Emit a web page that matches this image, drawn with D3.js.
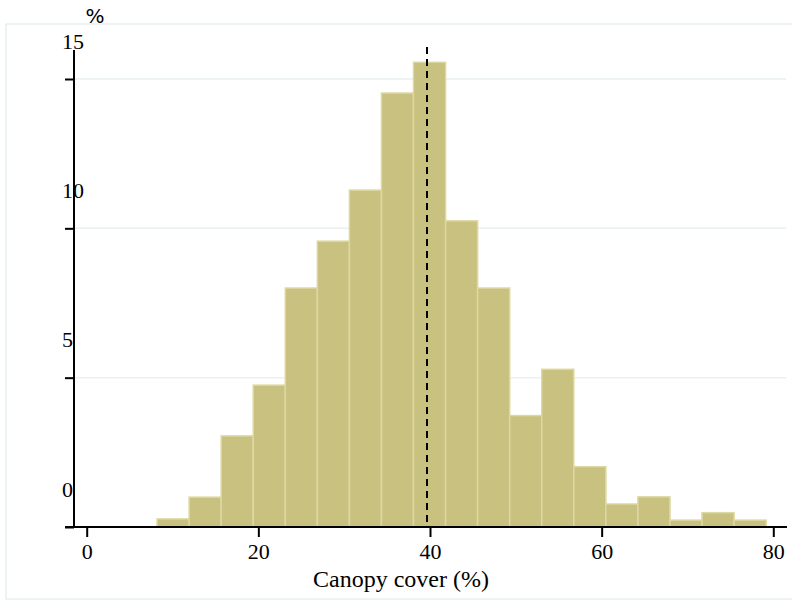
<!DOCTYPE html>
<html><head><meta charset="utf-8">
<script src="https://cdn.jsdelivr.net/npm/d3@7"></script>
<style>html,body{margin:0;padding:0;background:#fff;}svg{display:block;}</style>
</head><body>
<svg id="chart" width="792" height="602"></svg>
<script>
// Histogram of canopy cover (percent of observations per bin)
const binStart = 8.2;
const binWidth = 3.735;
const percents = [0.27, 1.0, 3.05, 4.75, 8.0, 9.57, 11.28, 14.53, 15.56, 10.25, 8.0, 3.73, 5.28, 2.02, 0.77, 1.01, 0.23, 0.48, 0.23];
const meanValue = 39.65;
const xTicks = [0, 20, 40, 60, 80];
const yTicks = [0, 5, 10, 15];
const xTitle = "Canopy cover (%)";
const yTitle = "%";

const bins = percents.map((v, i) => ({x0: binStart + i * binWidth, x1: binStart + (i + 1) * binWidth, v}));

const serif = "Liberation Serif, Times New Roman, serif";
const svg = d3.select("#chart");
const x = d3.scaleLinear().domain([0, 80]).range([86.7, 773.3]);
const y = d3.scaleLinear().domain([0, 15]).range([527, 79]);

// outer frame
svg.append("rect").attr("x", 6).attr("y", 24).attr("width", 800).attr("height", 575)
  .attr("fill", "none").attr("stroke", "#e8eff1").attr("stroke-width", 1.5);

// gridlines
svg.append("g").selectAll("line").data(yTicks.filter(d => d > 0)).join("line")
  .attr("x1", 74).attr("x2", 786).attr("y1", d => y(d)).attr("y2", d => y(d))
  .attr("stroke", "#e9f0f2").attr("stroke-width", 1.5);

// bars
svg.append("g").selectAll("rect").data(bins).join("rect")
  .attr("x", d => x(d.x0)).attr("width", d => x(d.x1) - x(d.x0))
  .attr("y", d => y(d.v)).attr("height", d => y(0) - y(d.v))
  .attr("fill", "#c9c17f").attr("stroke", "#ddd7a3").attr("stroke-width", 1.5);

// mean line
svg.append("line").attr("x1", x(meanValue)).attr("x2", x(meanValue))
  .attr("y1", 47).attr("y2", 527)
  .attr("stroke", "#000").attr("stroke-width", 2).attr("stroke-dasharray", "7,5");

// y axis
const yAxis = d3.axisLeft(y).tickValues(yTicks).tickSize(9).tickFormat(d3.format("d"));
const gy = svg.append("g").attr("transform", "translate(74,0)").call(yAxis);
gy.select(".domain").attr("d", "M0,50V527").attr("stroke", "#000").attr("stroke-width", 2);
gy.selectAll(".tick line").attr("stroke", "#000").attr("stroke-width", 2);
gy.selectAll(".tick text").attr("x", -12).attr("dy", "-31px").attr("text-anchor", "start")
  .attr("font-family", serif).attr("font-size", 22).attr("fill", "#000");

// x axis
const xAxis = d3.axisBottom(x).tickValues(xTicks).tickSize(10).tickPadding(6).tickFormat(d3.format("d"));
const gx = svg.append("g").attr("transform", "translate(0,527)").call(xAxis);
gx.select(".domain").attr("d", "M65,0H787").attr("stroke", "#000").attr("stroke-width", 2);
gx.selectAll(".tick line").attr("stroke", "#000").attr("stroke-width", 2);
gx.selectAll(".tick text").attr("font-family", serif).attr("font-size", 22).attr("fill", "#000");

// titles
svg.append("text").attr("x", 401).attr("y", 587).attr("text-anchor", "middle")
  .attr("font-family", serif).attr("font-size", 24).text(xTitle);
svg.append("text").attr("x", 95).attr("y", 23).attr("text-anchor", "middle")
  .attr("font-family", "DejaVu Sans, sans-serif").attr("font-size", 20).text(yTitle);
</script>
</body></html>
